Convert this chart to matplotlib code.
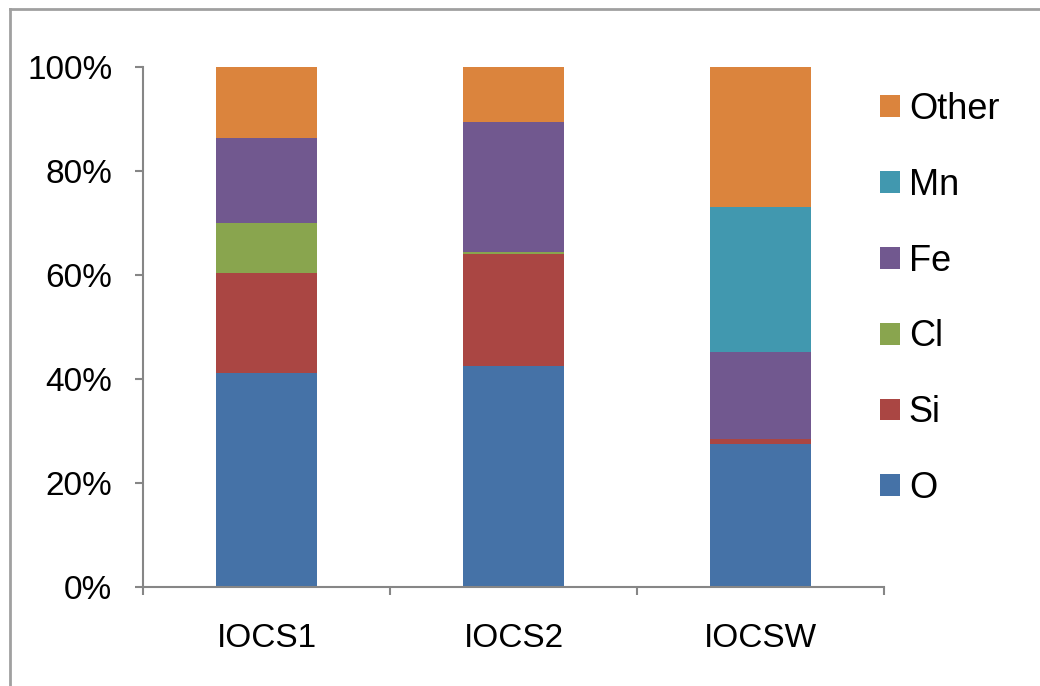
import numpy as np
import matplotlib.pyplot as plt
from matplotlib.lines import Line2D
import matplotlib.ticker as mtick

plt.rcParams['font.family'] = ['Liberation Sans', 'DejaVu Sans']

samples = ['IOCS1', 'IOCS2', 'IOCSW']
elements = ['O', 'Si', 'Cl', 'Fe', 'Mn', 'Other']
O     = [41.2, 42.5, 27.5]
Si    = [19.2, 21.5, 0.9]
Cl    = [9.6, 0.4, 0.0]
Fe    = [16.3, 25.1, 16.8]
Mn    = [0.0, 0.0, 27.8]
Other = [13.7, 10.5, 27.0]
COLORS = ['#4572A7', '#AA4643', '#89A54E', '#71588F', '#4198AF', '#DB843D']

series = [O, Si, Cl, Fe, Mn, Other]

fig = plt.figure(figsize=(10.4, 6.86), dpi=100)
ax = fig.add_axes([143 / 1040, 1 - 587 / 686, (884 - 143) / 1040, (587 - 67) / 686])

# normalise to 100% stacked
vals = np.array(series, dtype=float)
vals = vals / vals.sum(axis=0)
x = np.arange(len(samples))
bottom = np.zeros(len(samples))
handles = []
for name, v, c in zip(elements, vals, COLORS):
    b = ax.bar(x, v, 0.405, bottom=bottom, color=c, label=name, zorder=2)
    handles.append(b)
    bottom += v

ax.set_xlim(-0.5, 2.5)
ax.set_ylim(0, 1)
ax.yaxis.set_major_locator(mtick.MultipleLocator(0.2))
ax.yaxis.set_major_formatter(mtick.PercentFormatter(1.0, decimals=0))
ax.set_xticks(x)
ax.set_xticklabels(samples)
ax.set_xticks([-0.5, 0.5, 1.5, 2.5], minor=True)

grey = '#868686'
for s in ['top', 'right']:
    ax.spines[s].set_visible(False)
for s in ['left', 'bottom']:
    ax.spines[s].set_color(grey)
    ax.spines[s].set_linewidth(1.5)
ax.tick_params(axis='y', length=6, width=1.5, color=grey, labelsize=24, pad=16)
ax.tick_params(axis='x', which='major', length=0, labelsize=24, pad=26)
ax.tick_params(axis='x', which='minor', length=6, width=1.5, color=grey)

fig.legend(handles[::-1], elements[::-1], loc='upper left',
           bbox_to_anchor=(880 / 1040, 1 - 92 / 686), frameon=False,
           fontsize=26, handlelength=0.55, handleheight=0.55,
           handletextpad=0.25, labelspacing=1.13, borderpad=0,
           borderaxespad=0)

# outer frame (only top and left edges visible in the crop)
fig.add_artist(Line2D([10 / 1040, 10 / 1040], [0, 1 - 9 / 686],
                      transform=fig.transFigure, color='#a0a0a0', linewidth=2))
fig.add_artist(Line2D([10 / 1040, 1], [1 - 9 / 686, 1 - 9 / 686],
                      transform=fig.transFigure, color='#a0a0a0', linewidth=2))

fig.savefig('out.png', dpi=100)
